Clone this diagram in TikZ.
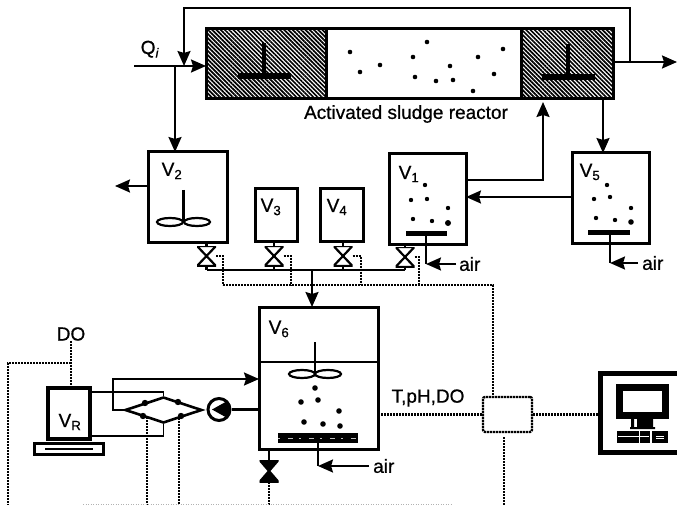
\documentclass[tikz,border=0pt]{standalone}
\usepackage{fontspec}
\setmainfont{Liberation Sans}
\newfontfamily\labfont{Liberation Sans}[FakeBold=0.7]
\usepackage{xcolor}
\usepackage{tikz}
\usetikzlibrary{arrows.meta, positioning, shapes.geometric, patterns.meta}

\begin{document}
\begin{tikzpicture}[
  x=1pt, y=-1pt,
  lbl/.style={inner sep=0pt, font=\labfont\fontsize{19}{21}\selectfont},
  box/.style={draw, line width=3pt, inner sep=0pt, outer sep=0pt},
  vessel/.style={box, fill=white},
  zone/.style={box, minimum height=70pt},
  stirred/.style={zone, pattern={Lines[angle=-45,distance=3pt,line width=1.7pt]}},
  pipe/.style={line width=2.2pt},
  flow/.style={pipe, -{Stealth[length=15pt, width=13pt, inset=2pt]}},
  signal/.style={line width=2.4pt, dash pattern=on 2.2pt off 0.8pt},
  blade/.style={draw, ellipse, line width=2.2pt, inner sep=0pt, minimum width=26pt, minimum height=8pt},
  bar/.style={fill=black, inner sep=0pt, minimum height=5pt},
  valve/.style={inner sep=0pt, outer sep=0pt, minimum width=19pt, minimum height=20pt,
    path picture={\draw[line width=2.2pt, fill=#1]
      (path picture bounding box.north west) -- (path picture bounding box.north east)
      -- (path picture bounding box.south west) -- (path picture bounding box.south east) -- cycle;}},
  valve/.default=white
]
  \useasboundingbox (0,0) rectangle (677,505);
  \clip (0,0) rectangle (677,505);

  % reactor
  \node[stirred, minimum width=120pt] (zoneL) at (266,64) {};
  \node[zone, minimum width=195pt, right=0pt of zoneL] (zoneM) {};
  \node[stirred, minimum width=92pt, right=0pt of zoneM] (zoneR) {};
  \node[lbl] (reactor) at (406,114) {Activated sludge reactor};
  \node[lbl, anchor=base] (qi) at (150,54) {Q\textsubscript{\textit{i}}};
  \foreach \px/\py in {350/52, 360/72, 380/65, 413/57, 427/42, 415/77, 436/81, 450/66, 453/80, 478/57, 494/74, 503/49, 473/91}
    \fill (\px,\py) circle (2.3);
  \fill (262,43) rectangle (266,75);
  \node[bar, minimum width=53pt, minimum height=6pt] (paddleL) at (264,76) {};
  \fill (566,44) rectangle (570,76);
  \node[bar, minimum width=53pt, minimum height=6pt] (paddleR) at (568,77) {};

  % vessels
  \node[vessel, minimum width=79pt, minimum height=90pt] (vtwo) at (187.5,197) {};
  \node[vessel, minimum width=42pt, minimum height=52pt] (vthree) at (276,215) {};
  \node[vessel, minimum width=43pt, minimum height=52pt] (vfour) at (341.5,215) {};
  \node[vessel, minimum width=77pt, minimum height=90pt] (vone) at (427.5,199) {};
  \node[vessel, minimum width=77pt, minimum height=90pt] (vfive) at (610.5,198) {};
  \node[vessel, minimum width=119pt, minimum height=142pt] (vsix) at (318.5,378) {};
  \node[box, line width=3.6pt, minimum width=42pt, minimum height=51pt] (vr) at (69,413.5) {};
  \node[box, minimum width=69pt, minimum height=11pt] (stand) at (68.5,448.5) {};
  \node[bar, minimum width=48pt, minimum height=2.5pt] (slot) at (69,449) {};
  \node[lbl] (ltwo) at (172,171) {V\textsubscript{2}};
  \node[lbl] (lthree) at (271,207) {V\textsubscript{3}};
  \node[lbl] (lfour) at (337,207) {V\textsubscript{4}};
  \node[lbl] (lone) at (409,174) {V\textsubscript{1}};
  \node[lbl] (lfive) at (590,172) {V\textsubscript{5}};
  \node[lbl] (lsix) at (279,329) {V\textsubscript{6}};
  \node[lbl] (lr) at (70,422) {V\textsubscript{R}};
  \node[lbl] (ldo) at (71,334) {DO};
  \node[lbl] (lprobe) at (428,398) {T,pH,DO};

  % stirrers in V2 and V6
  \node[blade] (bladeA) at (170,222) {};
  \node[blade] (bladeB) at (197,222) {};
  \draw[line width=2.2pt] (183.5,190) -- (183.5,222);
  \node[blade] (bladeC) at (302,374) {};
  \node[blade] (bladeD) at (328,374) {};
  \draw[line width=2.2pt] (315,342) -- (315,374);
  \draw[line width=2pt] (vsix.west |- 0,362) -- (vsix.east |- 0,362);

  % aerated contents
  \foreach \px/\py in {425/185, 411/200, 427/199, 448/208, 413/219, 432/221}
    \fill (\px,\py) circle (2.2);
  \fill (448,223) circle (3);
  \foreach \px/\py in {607/185, 594/199, 610/197, 631/208, 596/218, 615/220}
    \fill (\px,\py) circle (2.2);
  \fill (631,222) circle (2.8);
  \foreach \px/\py in {315/388, 301/402, 318/400, 339/411, 304/422, 323/424, 340/426}
    \fill (\px,\py) circle (2.8);
  \node[bar, minimum width=41pt] (diffone) at (426.5,233) {};
  \node[bar, minimum width=42pt] (difffive) at (609,232) {};
  \node[bar, minimum width=80pt, minimum height=10pt] (diffsix) at (318,438) {};
  \draw[white!75!black, line width=1pt, dash pattern=on 2pt off 8pt on 5pt off 6pt] (diffsix.west) -- (diffsix.east);

  % valves
  \node[valve] (valvetwo) at (206.5,256) {};
  \node[valve] (valvethree) at (274,256) {};
  \node[valve] (valvefour) at (343,256) {};
  \node[valve] (valveone) at (405,257) {};
  \node[valve=black, minimum height=22pt] (valvesix) at (269,471) {};

  % named points on the lines
  \coordinate (qin) at (134,66);
  \coordinate (qtee) at (175,66);
  \coordinate (qdrop) at (184,66);
  \coordinate (rectee) at (630,62);
  \coordinate (rectop) at (184,8);
  \coordinate (exit) at (677,62);
  \coordinate (vret) at (543,180);
  \coordinate (vfeed) at (520,197);
  \coordinate (vtap) at (603,120);
  \coordinate (vleft) at (115,186);
  \coordinate (mani) at (312,270);
  \coordinate (airone) at (426,264);
  \coordinate (airfive) at (610,263);
  \coordinate (airsix) at (318,466);
  \coordinate (aironeend) at (456,264);
  \coordinate (airfiveend) at (638,263);
  \coordinate (airsixend) at (369,466);
  \node[lbl, right=3pt of aironeend] (lairone) {air};
  \node[lbl, right=4pt of airfiveend] (lairfive) {air};
  \node[lbl, right=4pt of airsixend] (lairsix) {air};

  % main flow
  \draw[flow] (qin) -- (qin -| zoneL.west);
  \draw[flow] (rectee) |- (rectop) -- (qdrop);
  \draw[pipe] (zoneR.east |- rectee) -- (rectee);
  \draw[flow] (rectee) -- (exit);
  \draw[flow] (qtee) -- (qtee |- vtwo.north);
  \draw[flow] (vtwo.west |- vleft) -- (vleft);
  \draw[flow, shorten >=3pt] (vret -| vone.east) -- (vret) -- (vret |- zoneR.south);
  \draw[flow] (vfeed -| vfive.west) -- (vfeed -| vone.east);
  \draw[flow] (vtap |- zoneR.south) -- (vtap |- vfive.north);

  % manifold
  \foreach \k in {two,three,four,one} {
    \draw[pipe] (v\k.south -| valve\k.north) -- (valve\k.north);
    \draw[pipe] (valve\k.south) -- (valve\k.south |- mani);
  }
  \draw[pipe] (mani -| valvetwo.south) -- (mani -| valveone.south);
  \draw[flow] (mani) -- (mani |- vsix.north);

  % air
  \draw[flow] (aironeend) -- (airone);
  \draw[pipe] (diffone.south -| airone) -- (airone);
  \draw[flow] (airfiveend) -- (airfive);
  \draw[pipe] (difffive.south -| airfive) -- (airfive);
  \draw[flow] (airsixend) -- (airsix);
  \draw[pipe] (diffsix.south -| airsix) -- (airsix);
  \draw[pipe] (vsix.south -| valvesix.north) -- (valvesix.north);

  % loop round the membrane
  \node[draw, diamond, line width=2.6pt, inner sep=0pt, minimum width=77pt, minimum height=26pt] (bridge) at (163.5,410) {};
  \foreach \px/\py in {145/403, 143/416, 178/402, 181/416}
    \fill (\px,\py) circle (3.2);
  \node[draw, circle, line width=3pt, inner sep=0pt, minimum size=22pt, fill=white,
    path picture={\fill[black, shift={(path picture bounding box.center)}] (-7,0) -- (11,-10) -- (11,10) -- cycle;}] (pump) at (219,409.5) {};
  \coordinate (loopup) at (113,379);
  \draw[flow] (bridge.west) -- (loopup |- bridge.west) -- (loopup) -- (loopup -| vsix.west);
  \draw[pipe] (pump.east) -- (pump.east -| vsix.west);
  \draw[line width=1.6pt] (vr.east |- 0,392) -| (bridge.north);
  \draw[line width=1.6pt] (vr.east |- 0,436) -| (bridge.south);

  % signals
  \coordinate (busa) at (223,285);
  \coordinate (busb) at (291,285);
  \coordinate (busc) at (361,285);
  \coordinate (busd) at (419,285);
  \coordinate (buse) at (493,285);
  \coordinate (sideleft) at (8,363);
  \coordinate (sidetop) at (71,363);
  \coordinate (sideend) at (8,505);
  \coordinate (meterone) at (147,417);
  \coordinate (meteroneend) at (147,505);
  \coordinate (metertwo) at (179,415);
  \coordinate (metertwoend) at (179,505);
  \coordinate (ctrlend) at (504,505);
  \coordinate (ctrltap) at (504,437);
  \coordinate (floorleft) at (83,504);
  \coordinate (floorright) at (453,504);
  \node[draw, line width=2.4pt, dash pattern=on 2.2pt off 0.8pt, rounded corners=2pt, inner sep=0pt,
    minimum width=49pt, minimum height=35pt] (ctrl) at (507.5,414.5) {};
  \draw[signal] (valvetwo.east) -| (busa);
  \draw[signal] (valvethree.east) -| (busb);
  \draw[signal] (valvefour.east) -| (busc);
  \draw[signal] (valveone.east) -| (busd);
  \draw[signal] (busa) -- (buse) -- (buse |- ctrl.north);
  \draw[signal] (ldo.south) -- (vr.north -| ldo.south);
  \draw[signal] (sidetop) -- (sideleft) -- (sideend);
  \draw[signal] (meterone) -- (meteroneend);
  \draw[signal] (metertwo) -- (metertwoend);
  \draw[signal] (valvesix.south) -- (valvesix.south |- sideend);
  \draw[signal] (ctrltap) -- (ctrlend);
  \draw[signal] (vsix.east |- ctrl.west) -- (ctrl.west);
  \draw[black!30, line width=1pt, dash pattern=on 1pt off 1.5pt] (floorleft) -- (floorright);

  % computer
  \node[box, line width=5pt, minimum width=84pt, minimum height=79pt] (desk) at (642,412.5) {};
  \draw[signal] (ctrl.east) -- (ctrl.east -| desk.west);
  \node[draw, line width=7pt, fill=white, inner sep=0pt, minimum width=46pt, minimum height=28pt] (screen) at (642,401) {};
  \fill (631,419) rectangle (634,428) (637,419) rectangle (653,427) (630,427) rectangle (655,429);
  \node[fill=black, inner sep=0pt, minimum width=33pt, minimum height=12pt] (keys) at (633.5,437) {};
  \node[fill=black, inner sep=0pt, minimum width=16pt, minimum height=12pt] (mouse) at (660,437) {};
  \draw[white, line width=0.7pt] (618,436) -- (649,436) (639,431) -- (639,443);
  \draw[white, line width=0.8pt] (656,436) -- (664,436) (656,438) -- (664,438);
\end{tikzpicture}
\end{document}
